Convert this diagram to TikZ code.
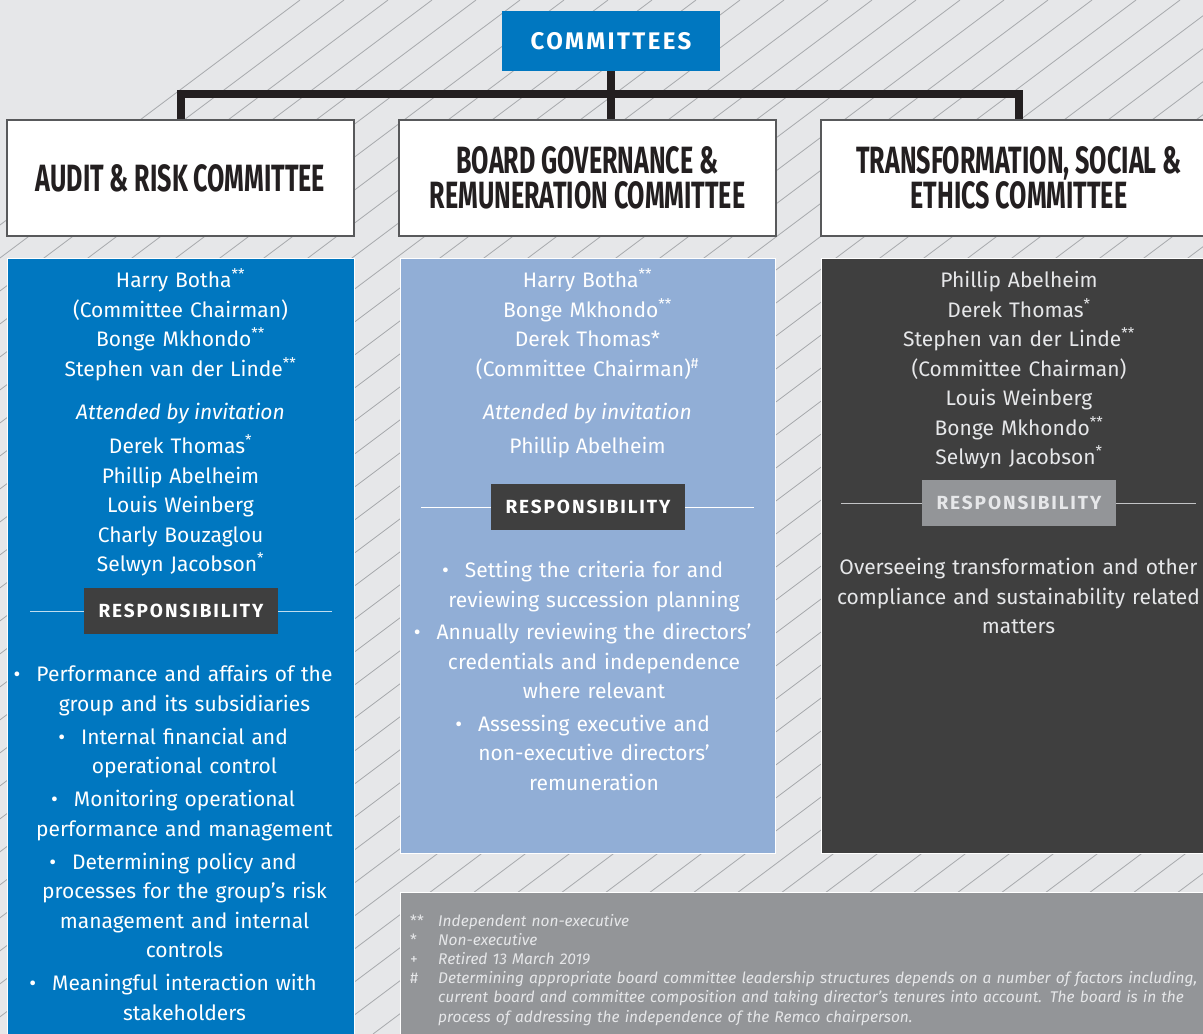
\documentclass[tikz,border=0pt]{standalone}
\usepackage{fontspec}
\setmainfont{Fira Sans}
\newfontfamily\headfont[FakeStretch=0.66]{Fira Sans}
\newfontfamily\tagfont[LetterSpace=10]{Fira Sans}

\definecolor{bggray}{HTML}{E6E7E9}
\definecolor{hatchgray}{HTML}{A7A9AC}
\definecolor{inkblack}{HTML}{231F20}
\definecolor{framegray}{HTML}{58595B}
\definecolor{auditblue}{HTML}{0077C0}
\definecolor{boardblue}{HTML}{91AED6}
\definecolor{ethicsdark}{HTML}{3F3F3F}
\definecolor{notegray}{HTML}{939598}

\newcommand\bodysize{\fontsize{21}{29.5}\selectfont}
\newcommand\bul{\leavevmode\llap{\textbullet\hspace{16pt}}}

\tikzset{
  hatch/.style={draw=hatchgray, line width=0.8pt},
  conn/.style={draw=inkblack, line width=8pt},
  topbox/.style={fill=auditblue, text=white, minimum width=218pt, minimum height=60pt,
    inner sep=0pt, font=\tagfont\bfseries\fontsize{24}{24}\selectfont},
  headbox/.style={draw=framegray, line width=1.5pt, fill=white, text=inkblack,
    minimum height=116pt, inner sep=0pt, align=center,
    font=\headfont\bfseries\fontsize{38}{35}\selectfont},
  panel/.style={draw=white, line width=1pt, inner sep=0pt, anchor=north},
  lines/.style={anchor=base, align=center, inner sep=0pt, font=\bodysize},
  tag/.style={minimum width=194pt, minimum height=46pt, inner sep=0pt,
    font=\tagfont\bfseries\fontsize{19}{19}\selectfont},
  rule/.style={draw=#1, line width=1pt}
}

\begin{document}
\begin{tikzpicture}[x=1pt,y=-1pt]
  \useasboundingbox (0,0) rectangle (1203,1034);
  \clip (0,0) rectangle (1203,1034);

  % hatched backdrop
  \fill[bggray] (0,0) rectangle (1203,1034);
  \foreach \s in {300,344,...,2620}
    \draw[hatch] (\s,0) -- (\s-1379,1034);

  % chart heads
  \node[topbox] (top) at (611,41) {COMMITTEES};
  \node[headbox, minimum width=347pt] (audit) at (180.5,178) {AUDIT \& RISK COMMITTEE};
  \node[headbox, minimum width=377pt] (board) at (587.5,178) {BOARD GOVERNANCE \&\\REMUNERATION COMMITTEE};
  \node[headbox, minimum width=396pt] (ethics) at (1019,178) {TRANSFORMATION, SOCIAL \&\\ETHICS COMMITTEE};

  \coordinate (bus) at (611,94);
  \draw[conn] (top.south) -- (top.south |- board.north);
  \draw[conn] (audit.north) |- (bus) -| (ethics.north);

  % column panels
  \node[panel, fill=auditblue, minimum width=347pt, minimum height=800pt] (apanel) at (180.5,258) {};
  \node[panel, fill=boardblue, minimum width=375pt, minimum height=595pt] (bpanel) at (587.5,258) {};
  \node[panel, fill=ethicsdark, minimum width=396pt, minimum height=595pt] (cpanel) at (1019,258) {};
  \node[panel, anchor=north west, fill=notegray, minimum width=817pt, minimum height=160pt] (notes) at (400,892) {};

  % audit & risk
  \node[lines, text=white, text width=340pt] (amembers) at (180.5,287.5)
    {Harry Botha\textsuperscript{**}\\(Committee Chairman)\\Bonge Mkhondo\textsuperscript{**}\\Stephen van der Linde\textsuperscript{**}};
  \node[lines, text=white, font=\bodysize\itshape] (ainvite) at (180.5,419.5) {Attended by invitation};
  \node[lines, text=white, text width=340pt] (aguests) at (180.5,453.5)
    {Derek Thomas\textsuperscript{*}\\Phillip Abelheim\\Louis Weinberg\\Charly Bouzaglou\\Selwyn Jacobson\textsuperscript{*}};
  \node[tag, fill=ethicsdark, text=white] (atag) at (181,611) {RESPONSIBILITY};
  \draw[rule=white!75!auditblue] (atag.west) -- +(-54,0);
  \draw[rule=white!75!auditblue] (atag.east) -- +(54,0);
  \node[lines, text=white, text width=340pt] (aduties) at (184.5,681.5)
    {\bul Performance and affairs of the\\group and its subsidiaries\\[3.5pt]
     \bul Internal financial and\\operational control\\[3.5pt]
     \bul Monitoring operational\\performance and management\\[3.5pt]
     \bul Determining policy and\\processes for the group’s risk\\management and internal\\controls\\[3.5pt]
     \bul Meaningful interaction with\\stakeholders};

  % board governance & remuneration
  \node[lines, text=white, text width=360pt] (bmembers) at (587.5,287.5)
    {Harry Botha\textsuperscript{**}\\Bonge Mkhondo\textsuperscript{**}\\Derek Thomas*\\(Committee Chairman)\textsuperscript{\#}};
  \node[lines, text=white, font=\bodysize\itshape] (binvite) at (587.5,419.5) {Attended by invitation};
  \node[lines, text=white] (bguests) at (587.5,453.5) {Phillip Abelheim};
  \node[tag, fill=ethicsdark, text=white] (btag) at (588,507) {RESPONSIBILITY};
  \draw[rule=white] (btag.west) -- +(-70,0);
  \draw[rule=white] (btag.east) -- +(69,0);
  \node[lines, text=white, text width=360pt] (bduties) at (594,577.5)
    {\bul Setting the criteria for and\\reviewing succession planning\\[3pt]
     \bul Annually reviewing the directors’\\credentials and independence\\where relevant\\[3pt]
     \bul Assessing executive and\\non-executive directors’\\remuneration};

  % transformation, social & ethics
  \node[lines, text=bggray, text width=380pt] (cmembers) at (1019,287.5)
    {Phillip Abelheim\\Derek Thomas\textsuperscript{*}\\Stephen van der Linde\textsuperscript{**}\\(Committee Chairman)\\Louis Weinberg\\Bonge Mkhondo\textsuperscript{**}\\Selwyn Jacobson\textsuperscript{*}};
  \node[tag, fill=notegray, text=bggray] (ctag) at (1019,503) {RESPONSIBILITY};
  \draw[rule=bggray!85!black] (ctag.west) -- +(-81,0);
  \draw[rule=bggray!85!black] (ctag.east) -- +(80,0);
  \node[lines, text=bggray, text width=380pt] (cduties) at (1018.5,574.5)
    {Overseeing transformation and other\\compliance and sustainability related\\matters};

  % footnotes
  \node[anchor=base west, align=left, inner sep=0pt, text width=800pt, text=bggray,
        font=\fontsize{15.5}{19.2}\selectfont\itshape] (notetext) at (410,926)
    {\makebox[28pt][l]{\upshape **}Independent non-executive\\
     \makebox[28pt][l]{\upshape *}Non-executive\\
     \makebox[28pt][l]{\upshape +}Retired 13 March 2019\\
     \makebox[28pt][l]{\upshape\#}Determining appropriate board committee leadership structures depends on a number of factors including,\\
     \hspace*{28pt}current board and committee composition and taking director’s tenures into account. The board is in the\\
     \hspace*{28pt}process of addressing the independence of the Remco chairperson.};
\end{tikzpicture}
\end{document}
